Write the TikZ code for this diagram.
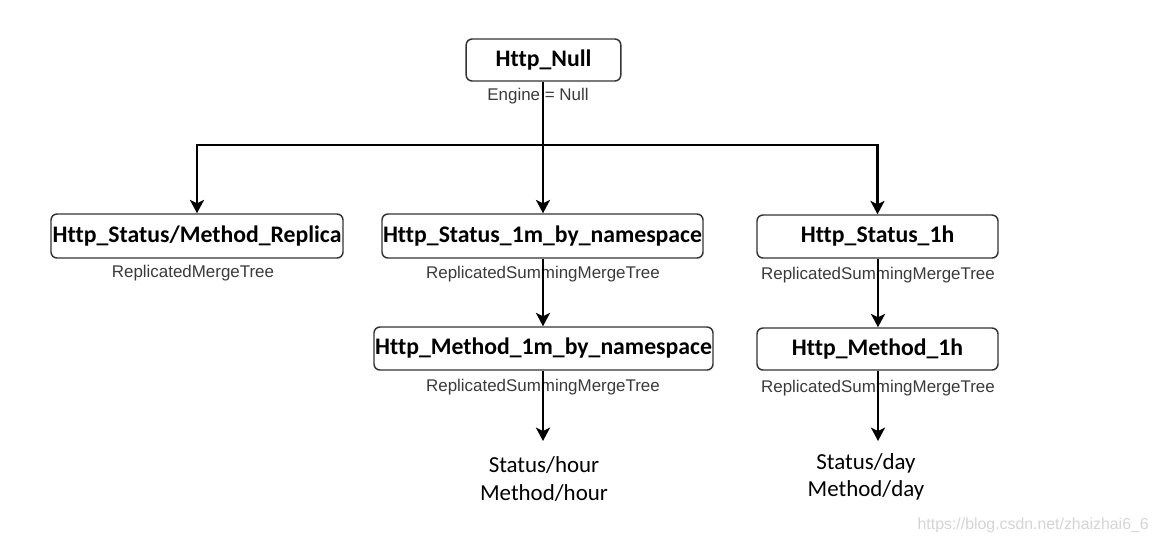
\documentclass[tikz,border=0pt]{standalone}
\usepackage{fontspec}
\setmainfont{Carlito}[Ligatures={NoCommon}]
\newfontfamily\lblfont{Liberation Sans}
\usetikzlibrary{arrows.meta}
\definecolor{boxborder}{HTML}{333333}
\definecolor{lblgray}{HTML}{3A3A3A}
\definecolor{wmgray}{HTML}{D4D4D4}
\tikzset{
  tbox/.style={draw=boxborder, line width=1.1pt, rounded corners=4.5pt, fill=white,
    font=\fontsize{17.8}{20}\selectfont\bfseries, inner sep=0pt},
  lbl/.style={font=\lblfont\fontsize{12.7}{14}\selectfont, text=lblgray, inner sep=0pt},
  endtxt/.style={font=\fontsize{17.2}{20.3}\selectfont, align=center, inner sep=0pt},
  ln/.style={line width=2.2pt, draw=black},
  arr/.style={ln, -{Stealth[length=10pt, width=10.5pt, inset=2.5pt]}},
}
\begin{document}
\begin{tikzpicture}[x=0.75pt, y=-0.75pt]
\useasboundingbox (0,0) rectangle (1157,544);
% labels (drawn first so lines pass over them)
\node[lbl] (lnull) at (538,96) {Engine = Null};
\node[lbl] (l1) at (193,273) {ReplicatedMergeTree};
\node[lbl] (l2) at (543,274) {ReplicatedSummingMergeTree};
\node[lbl] (l3) at (878,275) {ReplicatedSummingMergeTree};
\node[lbl] (l4) at (543,387) {ReplicatedSummingMergeTree};
\node[lbl] (l5) at (878,388) {ReplicatedSummingMergeTree};
% boxes
\node[tbox, minimum width=116pt, minimum height=31.5pt] (null) at (543.5,60) {Http\_Null};
\node[tbox, minimum width=219pt, minimum height=33pt] (b1) at (197,236) {Http\_Status/Method\_Replica};
\node[tbox, minimum width=240.75pt, minimum height=33pt] (b2) at (542.5,236) {Http\_Status\_1m\_by\_namespace};
\node[tbox, minimum width=180.75pt, minimum height=32.25pt] (b3) at (877.5,236.5) {Http\_Status\_1h};
\node[tbox, minimum width=254.25pt, minimum height=32.25pt] (b4) at (543.5,348.5) {Http\_Method\_1m\_by\_namespace};
\node[tbox, minimum width=180.75pt, minimum height=31.5pt] (b5) at (877.5,349) {Http\_Method\_1h};
% end texts
\node[endtxt] (hour) at (544,479) {Status/hour\\Method/hour};
\node[endtxt] (day) at (866,477) {Status/day\\Method/day};
\coordinate (hub) at (543,145);
\coordinate (e1) at (543,441);
\coordinate (e2) at (878,441);
% connectors
\draw[ln] (null.south -| hub) -- (hub);
\draw[arr] (hub) -| (b1);
\draw[arr] (hub) -| (b3);
\draw[arr] (hub) -- (b2.north -| hub);
\draw[arr] (b2.south -| e1) -- (b4.north -| e1);
\draw[arr] (b3.south -| e2) -- (b5.north -| e2);
\draw[arr] (b4.south -| e1) -- (e1);
\draw[arr] (b5.south -| e2) -- (e2);
% watermark
\node[font=\lblfont\fontsize{11.9}{14}\selectfont, text=wmgray, anchor=east, inner sep=0pt] (wm) at (1149,525) {https://blog.csdn.net/zhaizhai6\_6};
\end{tikzpicture}
\end{document}
